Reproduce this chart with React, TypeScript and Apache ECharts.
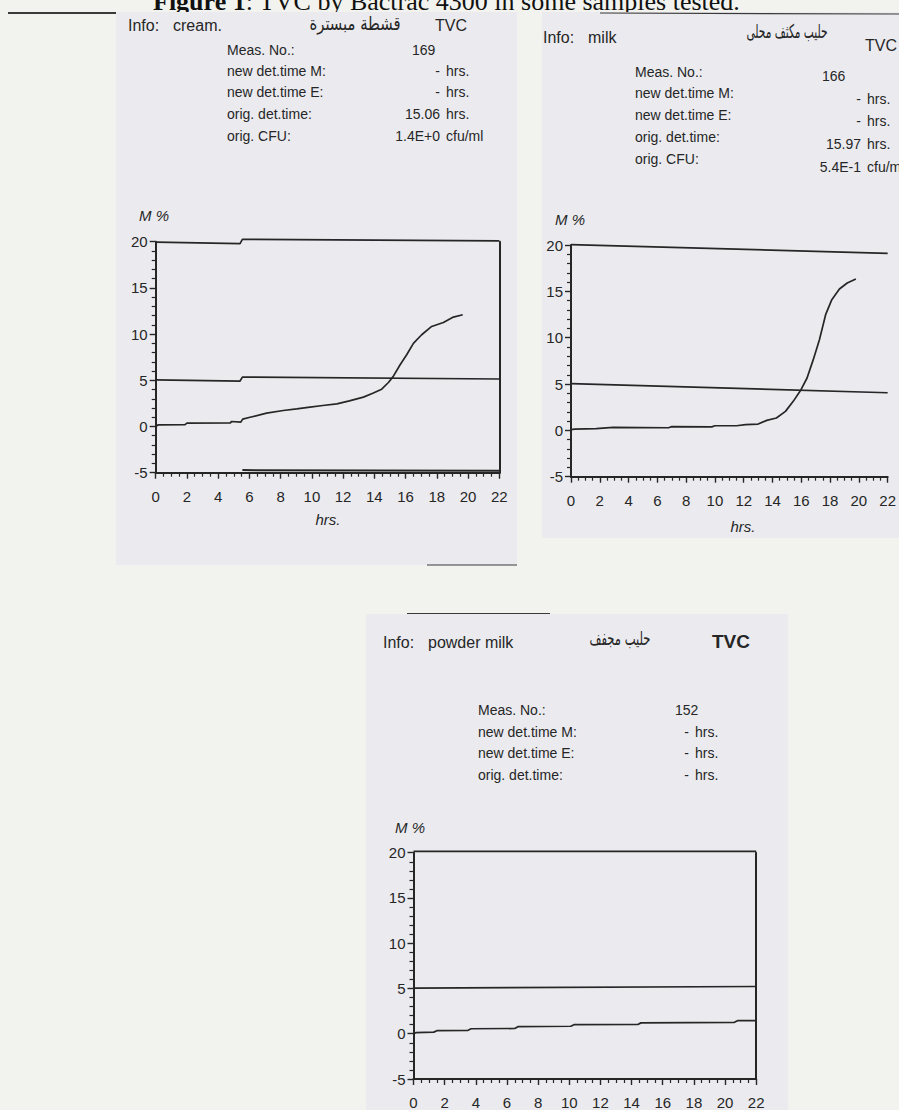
import React, { useEffect, useRef } from "react";
import * as echarts from "echarts";

const FONT = "Liberation Sans, Arial, sans-serif";
const SERIF = "Liberation Serif, Times New Roman, serif";
const INK = "#262626";
const PAGE_BG = "#f2f3ee";
const CARD_BG = "#ebebef";

// ---- data ----
const xTicksMax = 22;
const yMin = -5;
const yMax = 20;

const creamCurve: [number, number][] = [
  [0, 0], [0.17, 0.18], [1.88, 0.2], [2, 0.36], [4.76, 0.38], [4.87, 0.54], [5.45, 0.47],
  [5.57, 0.8], [6.04, 1.0], [7.1, 1.44], [8.17, 1.73], [9.03, 1.9], [9.88, 2.1], [10.7, 2.27],
  [11.6, 2.45], [12.4, 2.78], [13.3, 3.18], [13.9, 3.6], [14.47, 4.04], [14.9, 4.76], [15.2, 5.4],
  [15.65, 6.68], [16.07, 7.76], [16.5, 9.0], [17.03, 9.93], [17.67, 10.83], [18.42, 11.26],
  [19.06, 11.84], [19.66, 12.09],
];
const creamUpper: [number, number][] = [[0, 19.95], [5.4, 19.8], [5.55, 20.25], [22, 20.1]];
const creamMid: [number, number][] = [[0, 5.05], [5.4, 4.92], [5.55, 5.35], [22, 5.14]];
const creamLower: [number, number][] = [[5.55, -4.72], [22, -4.8]];

const milkCurve: [number, number][] = [
  [0, 0.07], [0.26, 0.14], [1.75, 0.18], [2.93, 0.32], [6.78, 0.28], [7.0, 0.4], [9.78, 0.38],
  [10, 0.5], [11.5, 0.5], [12.13, 0.61], [13, 0.68], [13.6, 1.08], [14.27, 1.33], [14.9, 2.05],
  [15.44, 3.13], [15.98, 4.39], [16.4, 5.65], [16.83, 7.63], [17.26, 9.78], [17.69, 12.48],
  [18.12, 14.1], [18.65, 15.25], [19.19, 15.9], [19.79, 16.33],
];
const milkUpper: [number, number][] = [[0, 20.05], [22, 19.1]];
const milkMid: [number, number][] = [[0, 5.04], [22, 4.06]];

const powderCurve: [number, number][] = [
  [0, 0], [0.15, 0.12], [1.3, 0.18], [1.5, 0.34], [3.5, 0.38], [3.7, 0.55], [6.5, 0.58],
  [6.7, 0.78], [10.1, 0.83], [10.3, 1.0], [14.4, 1.02], [14.6, 1.2], [20.6, 1.26], [20.8, 1.44],
  [22, 1.45],
];
const powderUpper: [number, number][] = [[0, 20.15], [22, 20.15]];
const powderMid: [number, number][] = [[0, 5.04], [22, 5.22]];

const titleText = "{b|Figure 1}: TVC by Bactrac 4300 in some samples tested.";
const card1Info = ["Info:", "cream.", "قشطة مبسترة", "TVC"];
const card2Info = ["Info:", "milk", "حليب مكثف محلى", "TVC"];
const card3Info = ["Info:", "powder milk", "حليب مجفف", "TVC"];
const rowLabels = ["Meas. No.:", "new det.time M:", "new det.time E:", "orig. det.time:", "orig. CFU:"];
const card1Values = ["169", "-", "-", "15.06", "1.4E+0"];
const card1Units = ["", "hrs.", "hrs.", "hrs.", "cfu/ml"];
const card2Values = ["166", "-", "-", "15.97", "5.4E-1"];
const card2Units = ["", "hrs.", "hrs.", "hrs.", "cfu/ml"];
const card3Values = ["152", "-", "-", "-"];
const card3Units = ["", "hrs.", "hrs.", "hrs."];

function txt(x: number, baseline: number, text: string, size: number, extra: any = {}) {
  return {
    type: "text",
    x,
    y: baseline - 0.346 * size,
    z: 10,
    silent: true,
    scaleX: extra.scaleX || 1,
    style: {
      text,
      fontSize: size,
      fontFamily: extra.fontFamily || FONT,
      fontStyle: extra.fontStyle || "normal",
      fontWeight: extra.fontWeight || "normal",
      fill: INK,
      align: extra.align || "left",
      verticalAlign: "middle",
      rich: extra.rich,
    },
  };
}

function xAxisFor(gridIndex: number) {
  return {
    gridIndex,
    type: "value",
    min: 0,
    max: xTicksMax,
    interval: 2,
    axisLine: { show: true, onZero: false, lineStyle: { color: INK, width: 2 } },
    axisTick: { show: true, length: 6, lineStyle: { color: INK, width: 1.4 } },
    minorTick: { show: true, splitNumber: 4, length: 4, lineStyle: { color: INK, width: 1.2 } },
    axisLabel: { margin: 16, fontSize: 15, color: INK, fontFamily: FONT },
    splitLine: { show: false },
    minorSplitLine: { show: false },
  };
}
function yAxisFor(gridIndex: number) {
  return {
    gridIndex,
    type: "value",
    min: yMin,
    max: yMax,
    interval: 5,
    position: "left",
    axisLine: { show: true, onZero: false, lineStyle: { color: INK, width: 2 } },
    axisTick: { show: true, length: 6, lineStyle: { color: INK, width: 1.4 } },
    minorTick: { show: true, splitNumber: 5, length: 4, lineStyle: { color: INK, width: 1.2 } },
    axisLabel: { margin: 8, fontSize: 15, color: INK, fontFamily: FONT },
    splitLine: { show: false },
  };
}
function yRightFor(gridIndex: number) {
  return {
    gridIndex,
    type: "value",
    min: yMin,
    max: yMax,
    interval: 5,
    position: "right",
    axisLine: { show: true, onZero: false, lineStyle: { color: INK, width: 2 } },
    axisTick: { show: false },
    axisLabel: { show: false },
    splitLine: { show: false },
  };
}
function lineSeries(data: [number, number][], xAxisIndex: number, yAxisIndex: number, width = 1.7) {
  return {
    type: "line",
    xAxisIndex,
    yAxisIndex,
    data,
    showSymbol: false,
    symbol: "none",
    clip: false,
    silent: true,
    lineStyle: { color: INK, width },
  };
}

export default function App() {
  const ref = useRef<HTMLDivElement>(null);
  useEffect(() => {
    if (!ref.current) return;
    const chart = echarts.init(ref.current, null, { renderer: "svg", width: 899, height: 1110 });

    const graphics: any[] = [];
    // title (partially cut at top of the scan)
    const title: any = txt(153, 10, titleText, 26, {
      fontFamily: SERIF,
      rich: { b: { fontWeight: "bold", fontSize: 26, fontFamily: SERIF, fill: "#111" } },
    });
    title.z = -20;
    title.style.fill = "#111";
    graphics.push(title);
    // cards
    const cards = [
      { x: 116, y: 12, w: 401, h: 553 },
      { x: 542, y: 12, w: 370, h: 526 },
      { x: 366, y: 614, w: 422, h: 520 },
    ];
    cards.forEach((c) =>
      graphics.push({ type: "rect", z: -10, silent: true, shape: { x: c.x, y: c.y, width: c.w, height: c.h }, style: { fill: CARD_BG } })
    );
    // scan shadow lines
    const shadow = (x1: number, y1: number, x2: number, y2: number, w: number) =>
      graphics.push({ type: "line", z: -5, silent: true, shape: { x1, y1, x2, y2 }, style: { stroke: "#3a3a3a", lineWidth: w } });
    shadow(8, 13, 116, 13, 2);
    shadow(600, 13, 899, 14, 1.2);
    shadow(427, 565, 517, 565, 1.2);
    shadow(407, 613.5, 550, 613.5, 1.2);

    // card 1 header
    graphics.push(txt(128, 31.5, card1Info[0], 16));
    graphics.push(txt(173, 31.5, card1Info[1], 16));
    graphics.push(txt(355, 30, card1Info[2], 19, { fontFamily: "DejaVu Sans", align: "center", scaleX: 0.78 }));
    graphics.push(txt(435, 31.5, card1Info[3], 16));
    const c1Base = [55, 75.5, 97, 118.5, 140.5];
    rowLabels.forEach((l, i) => graphics.push(txt(227, c1Base[i], l, 14)));
    card1Values.forEach((v, i) => {
      if (i === 0) graphics.push(txt(412, c1Base[i], v, 14));
      else graphics.push(txt(440, c1Base[i], v, 14, { align: "right" }));
    });
    card1Units.forEach((u, i) => u && graphics.push(txt(446, c1Base[i], u, 14)));
    graphics.push(txt(139, 221, "M %", 15, { fontStyle: "italic" }));
    graphics.push(txt(328, 525, "hrs.", 15, { fontStyle: "italic", align: "center" }));

    // card 2 header
    graphics.push(txt(543, 43, card2Info[0], 16));
    graphics.push(txt(588, 43, card2Info[1], 16));
    graphics.push(txt(787, 38, card2Info[2], 19, { fontFamily: "DejaVu Sans", align: "center", scaleX: 0.56 }));
    graphics.push(txt(865, 51, card2Info[3], 16));
    const c2L = [76.7, 98.3, 120, 141.7, 164];
    const c2R = [81, 104, 126, 149, 172];
    rowLabels.forEach((l, i) => graphics.push(txt(635, c2L[i], l, 14)));
    card2Values.forEach((v, i) => {
      if (i === 0) graphics.push(txt(822, c2R[i], v, 14));
      else graphics.push(txt(861, c2R[i], v, 14, { align: "right" }));
    });
    card2Units.forEach((u, i) => u && graphics.push(txt(867, c2R[i], u, 14)));
    graphics.push(txt(555, 225, "M %", 15, { fontStyle: "italic" }));
    graphics.push(txt(743, 532, "hrs.", 15, { fontStyle: "italic", align: "center" }));

    // card 3 header
    graphics.push(txt(383, 648, card3Info[0], 16));
    graphics.push(txt(428, 648, card3Info[1], 16));
    graphics.push(txt(620, 645, card3Info[2], 19, { fontFamily: "DejaVu Sans", align: "center", scaleX: 0.61 }));
    graphics.push(txt(712, 648, card3Info[3], 19, { fontWeight: "bold" }));
    const c3Base = [715, 736.7, 758.3, 780];
    rowLabels.slice(0, 4).forEach((l, i) => graphics.push(txt(478, c3Base[i], l, 14)));
    card3Values.forEach((v, i) => {
      if (i === 0) graphics.push(txt(675, c3Base[i], v, 14));
      else graphics.push(txt(689, c3Base[i], v, 14, { align: "right" }));
    });
    card3Units.forEach((u, i) => u && graphics.push(txt(695, c3Base[i], u, 14)));
    graphics.push(txt(395, 833, "M %", 15, { fontStyle: "italic" }));

    chart.setOption({
      animation: false,
      backgroundColor: PAGE_BG,
      grid: [
        { left: 155.7, top: 241.7, width: 343.6, height: 231 },
        { left: 571, top: 245, width: 342.8, height: 231.7 },
        { left: 413.5, top: 852.7, width: 342.7, height: 231.3 },
      ],
      xAxis: [xAxisFor(0), xAxisFor(1), xAxisFor(2)],
      yAxis: [yAxisFor(0), yRightFor(0), yAxisFor(1), yAxisFor(2), yRightFor(2)],
      series: [
        lineSeries(creamUpper, 0, 0),
        lineSeries(creamMid, 0, 0),
        lineSeries(creamLower, 0, 0, 2),
        lineSeries(creamCurve, 0, 0),
        lineSeries(milkUpper, 1, 2),
        lineSeries(milkMid, 1, 2),
        lineSeries(milkCurve, 1, 2),
        lineSeries(powderUpper, 2, 3),
        lineSeries(powderMid, 2, 3),
        lineSeries(powderCurve, 2, 3),
      ],
      graphic: { elements: graphics },
    });
    return () => chart.dispose();
  }, []);
  return <div ref={ref} style={{ position: "fixed", left: 0, top: 0, width: 899, height: 1110 }} />;
}
